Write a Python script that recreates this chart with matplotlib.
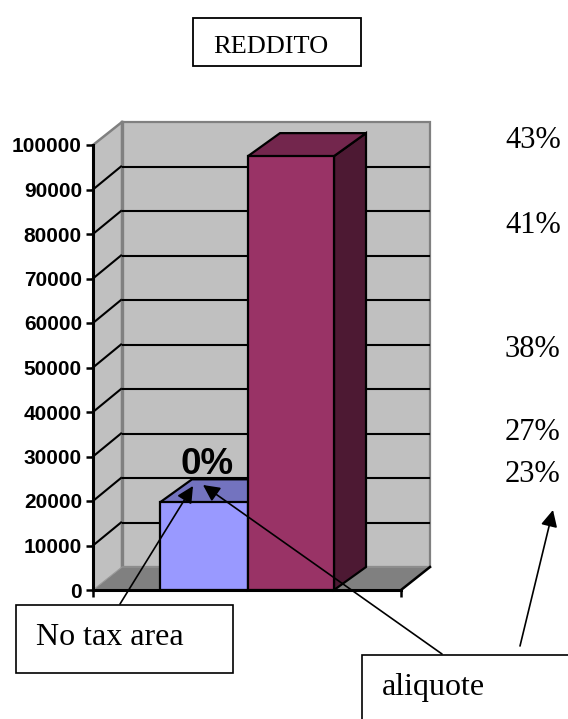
import matplotlib
matplotlib.use('Agg')
import matplotlib.pyplot as plt
from matplotlib.patches import Polygon, Rectangle

# values
tick_values = [0, 10000, 20000, 30000, 40000, 50000, 60000, 70000, 80000, 90000, 100000]
bar_values = [19700, 97500]
bar_colors = ['#9999FF', '#993366']
bar_top_colors = ['#7373BF', '#73264D']
bar_side_colors = ['#4D4D80', '#4D1933']
rates = ['43%', '41%', '38%', '27%', '23%']
rate_baselines = [148, 233, 357, 440, 482]

W, H = 568, 719
X0, X1 = 93, 401       # front edge of the floor, in pixels
Y0, Y1 = 590, 145      # pixel rows of 0 and 100000
DX = 29                # depth of the walls
DY = (23 / (Y0 - Y1)) * 100000
BAR_EDGES = [(160, 248), (248, 334)]
BAR_DX = 32

SERIF = 'Liberation Serif'
SANS = 'Liberation Sans'


def draw_walls(ax):
    """ Grey side wall, back wall and floor with their grid lines """
    top = tick_values[-1]
    side = [(X0, 0), (X0 + DX, DY), (X0 + DX, top + DY), (X0, top)]
    back = [(X0 + DX, DY), (X1 + DX, DY), (X1 + DX, top + DY), (X0 + DX, top + DY)]
    floor = [(X0, 0), (X1, 0), (X1 + DX, DY), (X0 + DX, DY)]
    ax.add_patch(Polygon(side, fc='#C0C0C0', ec='none', clip_on=False, zorder=1))
    ax.add_patch(Polygon(back, fc='#C0C0C0', ec='#808080', lw=1.6, clip_on=False, zorder=1))
    ax.add_patch(Polygon(floor, fc='#808080', ec='#999999', lw=0.8, clip_on=False, zorder=1.5))

    # thick grey post where the two walls meet
    ax.plot([X0 + DX, X0 + DX], [DY, top + DY], color='#808080', lw=2.4, clip_on=False, zorder=1.1)

    for v in tick_values[1:-1]:
        ax.plot([X0, X0 + DX - 1], [v, v + DY], color='black', lw=1.5, clip_on=False, zorder=1.2)
        ax.plot([X0 + DX + 1, X1 + DX - 1], [v + DY, v + DY], color='black', lw=1.5,
                clip_on=False, zorder=1.2)
    # top edge of the side wall is grey, the floor's right edge is black
    ax.plot([X0, X0 + DX], [top, top + DY], color='#808080', lw=1.8, clip_on=False, zorder=1.2)
    ax.plot([X1, X1 + DX], [0, DY], color='black', lw=1.8, clip_on=False, zorder=1.6)


def draw_bars(ax):
    """ Front faces through ax.bar, top and side faces as polygons """
    for i in range(len(bar_values)):
        left, right = BAR_EDGES[i]
        v = bar_values[i]
        top_face = [(left, v), (right, v), (right + BAR_DX, v + DY), (left + BAR_DX, v + DY)]
        side_face = [(right, 0), (right + BAR_DX, DY), (right + BAR_DX, v + DY), (right, v)]
        ax.add_patch(Polygon(side_face, fc=bar_side_colors[i], ec='black', lw=1.6,
                             clip_on=False, zorder=3 + i, joinstyle='miter'))
        ax.add_patch(Polygon(top_face, fc=bar_top_colors[i], ec='black', lw=1.6,
                             clip_on=False, zorder=3 + i, joinstyle='miter'))
        ax.bar(left, v, width=right - left, align='edge', color=bar_colors[i],
               edgecolor='black', lw=1.6, clip_on=False, zorder=3.2 + i)


def draw_notes(over):
    """ Text boxes, arrows and the percent column, placed in pixels """
    over.add_patch(Rectangle((192.5, 17.5), 168, 48, fc='white', ec='black', lw=1.3))
    over.text(213, 53, 'REDDITO', family=SERIF, fontsize=19, va='baseline')

    over.add_patch(Rectangle((15.5, 604.5), 217, 68, fc='white', ec='black', lw=1.2))
    over.text(36, 645, 'No tax area', family=SERIF, fontsize=23, va='baseline')

    over.add_patch(Rectangle((361.5, 654.5), 300, 200, fc='white', ec='black', lw=1.2))
    over.text(382, 695, 'aliquote', family=SERIF, fontsize=23, va='baseline')

    for label, row in zip(rates, rate_baselines):
        over.text(505, row, label, family=SERIF, fontsize=22, va='baseline')

    over.text(207.5, 474, '0%', family=SANS, weight='bold', fontsize=26.5,
              ha='center', va='baseline')

    arrows = [((120, 604), (193, 486)), ((442, 654), (203, 485)), ((520, 646), (553, 510))]
    for start, tip in arrows:
        over.annotate('', xy=tip, xytext=start,
                      arrowprops=dict(arrowstyle='-|>,head_length=1.0,head_width=0.5',
                                      color='black', lw=1.2, shrinkA=0, shrinkB=0))


def main():
    fig = plt.figure(figsize=(W / 100, H / 100), dpi=100, facecolor='white')
    ax = fig.add_axes([X0 / W, (H - Y0) / H, (X1 - X0) / W, (Y0 - Y1) / H])
    ax.patch.set_visible(False)
    ax.set_xlim(X0, X1)
    ax.set_ylim(0, tick_values[-1])

    draw_walls(ax)
    draw_bars(ax)

    ax.set_yticks(tick_values)
    ax.set_yticklabels([str(v) for v in tick_values], family=SANS, weight='bold', fontsize=15)
    ax.set_xticks([X0, X1])
    ax.set_xticklabels([])
    ax.tick_params(axis='both', length=5, width=1.8, color='black', pad=3)
    for name in ['top', 'right']:
        ax.spines[name].set_visible(False)
    for name in ['left', 'bottom']:
        ax.spines[name].set_linewidth(2.2)
        ax.spines[name].set_zorder(6)

    over = fig.add_axes([0, 0, 1, 1], facecolor='none')
    over.set_xlim(0, W)
    over.set_ylim(H, 0)
    over.axis('off')
    draw_notes(over)

    fig.savefig('out.png', dpi=100)


if __name__ == "__main__":
    main()
